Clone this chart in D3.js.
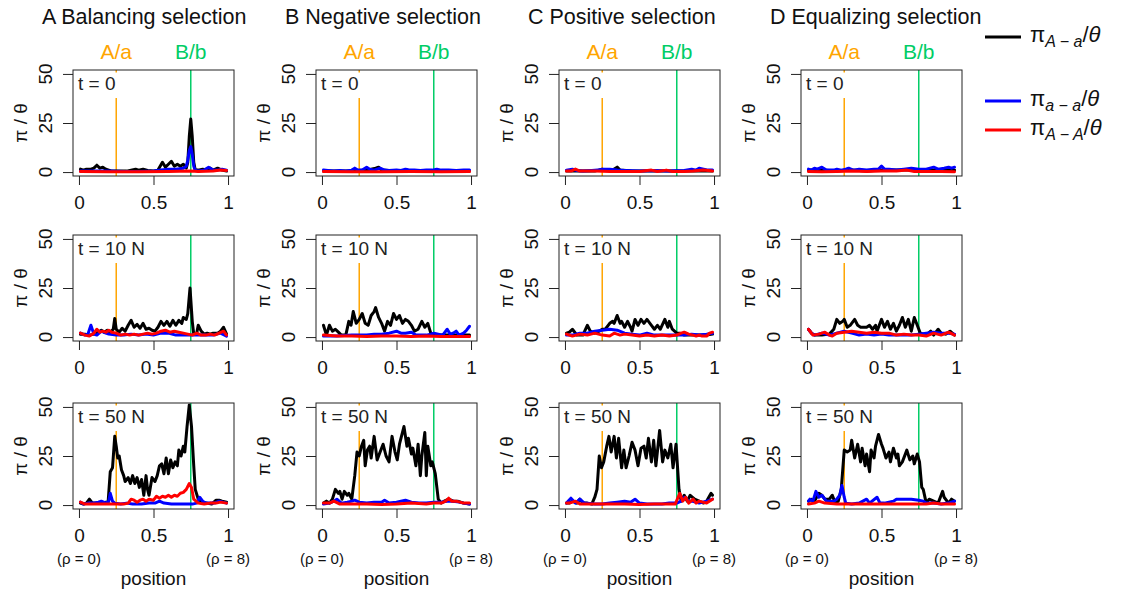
<!DOCTYPE html>
<html><head><meta charset="utf-8">
<script src="https://cdn.jsdelivr.net/npm/d3@7"></script>
<style>body{margin:0;background:#fff} svg{display:block} text{font-family:"Liberation Sans",Arimo,Arial,sans-serif}</style>
</head><body><svg id="c" width="1128" height="591"></svg>
<script>
// ---------- labels ----------
const panelTitles = ["A Balancing selection","B Negative selection","C Positive selection","D Equalizing selection"];
const timeLabels = ["t = 0","t = 10 N","t = 50 N"];
const siteLabels = ["A/a","B/b"];
const sitePositions = [0.25, 0.75];
const xTickValues = [0, 0.5, 1];
const xTickLabels = ["0","0.5","1"];
const yTickValues = [0, 25, 50];
const rhoLabels = ["(ρ = 0)","(ρ = 8)"];
const legendSubs = ["A − a","a − a","A − A"];

// ---------- data: [position, pi/theta] ----------
// A Balancing selection
const balT0_Aa = [[0.01,1.5],[0.03,1],[0.05,1.5],[0.08,1.5],[0.1,2],[0.12,3.5],[0.14,2],[0.16,2.5],[0.18,1.5],[0.2,1],[0.22,0.5],[0.25,0.5],[0.28,0.5],[0.32,0.5],[0.35,1],[0.38,1.5],[0.4,1],[0.43,1.5],[0.46,0.8],[0.5,0.5],[0.53,1],[0.56,5],[0.58,2.5],[0.6,4],[0.62,5.5],[0.64,3],[0.66,4],[0.68,3],[0.7,4],[0.72,2],[0.73,5],[0.74,18],[0.75,27],[0.76,18],[0.77,5],[0.78,1],[0.8,1],[0.83,1.5],[0.86,1],[0.88,2],[0.9,1],[0.93,2],[0.96,1],[0.99,0.5]];
const balT0_aa = [[0.01,0.5],[0.1,0.5],[0.2,0.5],[0.3,0.3],[0.4,0.3],[0.5,0.5],[0.55,1],[0.6,1.5],[0.65,1.5],[0.7,2],[0.72,3],[0.73,6],[0.74,11],[0.75,13],[0.76,9],[0.77,3],[0.78,1],[0.8,0.5],[0.84,1],[0.87,2.5],[0.9,1],[0.93,1],[0.96,1.5],[0.99,1]];
const balT0_AA = [[0.01,0.3],[0.2,0.2],[0.4,0.2],[0.6,0.3],[0.75,0.5],[0.8,0.3],[0.9,0.5],[0.95,1],[0.99,0.8]];
const balT10_Aa = [[0.01,1.5],[0.04,1.5],[0.07,1],[0.1,1.5],[0.13,2.5],[0.15,3.5],[0.17,2.5],[0.19,3.5],[0.21,2.5],[0.23,4],[0.24,9.5],[0.25,4],[0.27,2.5],[0.29,4.5],[0.31,3],[0.33,6],[0.35,8.5],[0.37,5],[0.39,6.5],[0.41,4.5],[0.43,7],[0.45,4],[0.47,4.5],[0.49,3.5],[0.51,3],[0.53,5],[0.55,8],[0.57,6],[0.59,8],[0.61,5.5],[0.63,8.5],[0.65,6],[0.67,8.5],[0.69,7],[0.7,10],[0.72,9],[0.73,12],[0.745,25],[0.76,8],[0.77,1.5],[0.79,2],[0.8,6],[0.82,3],[0.84,1.5],[0.86,2],[0.88,1.5],[0.9,2],[0.93,2],[0.95,3],[0.97,5],[0.99,1.5]];
const balT10_aa = [[0.01,2],[0.04,1],[0.06,1.5],[0.08,6],[0.1,1.5],[0.12,1],[0.15,3],[0.18,2],[0.2,1.5],[0.25,1],[0.3,1],[0.35,1.5],[0.4,1],[0.45,1.5],[0.5,1],[0.55,2],[0.6,2],[0.65,1],[0.7,1],[0.75,1],[0.8,1],[0.85,1],[0.9,1],[0.95,2],[0.99,0.5]];
const balT10_AA = [[0.01,2],[0.04,1],[0.07,0.5],[0.1,2],[0.12,4],[0.14,2.5],[0.16,3],[0.18,2.5],[0.2,3.5],[0.22,2.5],[0.25,2],[0.28,1],[0.31,1.5],[0.34,1],[0.37,1.5],[0.4,1],[0.43,1.5],[0.46,2],[0.49,1.5],[0.52,2],[0.55,3],[0.58,3.5],[0.61,2.5],[0.64,3],[0.67,2.5],[0.7,2],[0.73,1.5],[0.76,1],[0.79,2],[0.82,1],[0.85,1],[0.88,1.5],[0.91,1],[0.94,2],[0.97,3],[0.99,1]];
const balT50_Aa = [[0.01,1],[0.03,0.5],[0.05,1],[0.07,3],[0.09,1],[0.12,1],[0.15,1],[0.18,1.5],[0.195,1],[0.21,17],[0.225,19],[0.24,35],[0.25,30],[0.26,24],[0.27,25],[0.285,18],[0.3,15],[0.31,12],[0.33,14],[0.345,11],[0.36,15],[0.375,11],[0.39,14],[0.405,9],[0.42,13],[0.435,5],[0.45,15],[0.46,8],[0.47,5],[0.49,14],[0.51,12],[0.525,15],[0.54,20],[0.555,21],[0.57,16],[0.585,24],[0.6,16],[0.615,23],[0.63,19],[0.645,22],[0.66,20],[0.67,28],[0.685,25],[0.7,30],[0.71,27],[0.725,40],[0.74,51],[0.755,40],[0.77,20],[0.78,8],[0.8,3],[0.83,1.5],[0.86,1],[0.89,0.5],[0.92,2.5],[0.94,2.5],[0.96,2],[0.99,1.5]];
const balT50_aa = [[0.01,1.5],[0.03,0.5],[0.06,1],[0.1,1],[0.13,1.5],[0.15,2],[0.18,1],[0.2,2],[0.21,6],[0.225,2],[0.24,1],[0.28,0.5],[0.32,1],[0.36,0.5],[0.42,0.5],[0.47,1],[0.51,1],[0.54,2],[0.57,1],[0.62,0.5],[0.7,0.5],[0.76,0.5],[0.79,1],[0.81,4],[0.83,2],[0.85,1],[0.88,1],[0.91,1],[0.94,2],[0.99,1]];
const balT50_AA = [[0.01,1.5],[0.04,0.5],[0.1,0.5],[0.2,0.5],[0.3,0.5],[0.33,1],[0.35,3],[0.37,2.5],[0.39,1.5],[0.41,2.5],[0.43,3],[0.45,2],[0.47,3],[0.5,2.5],[0.52,4.5],[0.54,3.5],[0.56,4.5],[0.58,4],[0.6,5],[0.62,4],[0.64,5],[0.66,4.5],[0.68,6],[0.7,6.5],[0.72,8],[0.74,11],[0.755,9],[0.77,3],[0.8,1],[0.84,0.5],[0.88,1],[0.92,1],[0.95,1.5],[0.99,1]];
// B Negative selection
const negT0_Aa = [[0.01,0.5],[0.1,0.5],[0.2,0.5],[0.3,1],[0.36,2],[0.38,2.5],[0.4,1],[0.5,0.5],[0.6,0.8],[0.7,0.5],[0.8,0.5],[0.9,0.5],[0.99,0.5]];
const negT0_aa = [[0.01,1],[0.04,0.8],[0.08,0.5],[0.12,0.8],[0.16,0.5],[0.2,1],[0.22,2],[0.24,1],[0.27,1],[0.3,2.5],[0.32,1.5],[0.35,1],[0.37,1.5],[0.39,2],[0.42,1],[0.45,0.8],[0.5,1],[0.53,0.8],[0.56,1.5],[0.58,1.2],[0.62,1],[0.66,0.8],[0.7,1],[0.74,1],[0.77,1.5],[0.8,1],[0.85,1],[0.9,0.8],[0.95,1],[0.99,1]];
const negT0_AA = [[0.01,0.3],[0.2,0.2],[0.4,0.2],[0.6,0.3],[0.8,0.2],[0.99,0.3]];
const negT10_Aa = [[0.01,6],[0.03,1],[0.05,6],[0.07,3],[0.09,4],[0.11,2.5],[0.13,1],[0.16,1],[0.18,8],[0.195,6],[0.21,13],[0.23,7],[0.25,9],[0.27,12],[0.29,7],[0.31,6],[0.33,11],[0.35,13],[0.36,15],[0.38,10],[0.4,7],[0.42,3],[0.44,8],[0.46,6],[0.48,12],[0.5,9],[0.52,11],[0.54,7],[0.56,9],[0.58,8],[0.6,6],[0.62,3],[0.645,4],[0.67,8],[0.69,5],[0.71,7],[0.73,2],[0.76,1],[0.8,1],[0.85,1],[0.9,1],[0.95,1],[0.99,1]];
const negT10_aa = [[0.01,0.5],[0.1,0.5],[0.2,1],[0.3,1],[0.35,1.5],[0.4,1.5],[0.45,2],[0.5,3],[0.53,2],[0.56,2],[0.6,2.5],[0.63,1],[0.67,1],[0.7,1],[0.73,1.5],[0.75,2],[0.78,1.5],[0.81,1],[0.84,4],[0.86,1.5],[0.88,2],[0.9,3],[0.92,1],[0.95,2],[0.97,3.5],[0.99,5.5]];
const negT10_AA = [[0.01,1],[0.1,0.5],[0.2,0.5],[0.3,0.3],[0.4,0.5],[0.5,0.5],[0.6,0.3],[0.7,0.5],[0.8,0.3],[0.9,0.3],[0.99,0.3]];
const negT50_Aa = [[0.01,1],[0.03,2],[0.05,1],[0.07,3],[0.09,8],[0.11,6],[0.12,7],[0.135,3],[0.15,7],[0.17,5],[0.18,6],[0.2,3],[0.22,15],[0.235,27],[0.25,25],[0.265,30],[0.28,33],[0.29,20],[0.305,28],[0.32,30],[0.33,24],[0.35,35],[0.37,23],[0.39,27],[0.41,31],[0.43,25],[0.45,22],[0.47,35],[0.49,27],[0.505,23],[0.52,31],[0.55,40],[0.57,30],[0.58,34],[0.6,26],[0.61,29],[0.63,20],[0.645,31],[0.66,15],[0.67,25],[0.69,37],[0.7,15],[0.71,30],[0.73,20],[0.74,22],[0.76,16],[0.78,3],[0.8,1],[0.82,2],[0.85,3],[0.88,2],[0.91,2],[0.95,1],[0.99,0.5]];
const negT50_aa = [[0.01,0.5],[0.05,1],[0.08,2],[0.1,3],[0.13,1],[0.17,1.5],[0.2,2],[0.22,2.5],[0.25,1.5],[0.3,1],[0.35,1.5],[0.4,1.5],[0.42,2.5],[0.45,1],[0.5,1.5],[0.56,2.5],[0.6,1.5],[0.65,1],[0.7,1],[0.75,1.5],[0.8,1.5],[0.84,2],[0.88,2],[0.92,1.5],[0.95,1],[0.99,0.5]];
const negT50_AA = [[0.01,1],[0.05,1],[0.08,2],[0.12,0.5],[0.2,0.5],[0.3,0.5],[0.4,0.3],[0.5,0.5],[0.6,1],[0.7,0.5],[0.75,1],[0.8,1],[0.83,2],[0.85,3.5],[0.87,2],[0.9,2],[0.95,1],[0.99,1]];
// C Positive selection
const posT0_Aa = [[0.01,0.5],[0.1,0.5],[0.2,0.5],[0.25,1.5],[0.28,1],[0.32,1],[0.35,2.5],[0.37,1],[0.45,0.5],[0.6,0.5],[0.8,0.5],[0.99,0.5]];
const posT0_aa = [[0.01,1],[0.05,1.5],[0.08,0.8],[0.12,0.5],[0.18,0.8],[0.22,1],[0.25,1.5],[0.3,1.5],[0.35,1],[0.4,0.8],[0.5,0.5],[0.6,0.8],[0.7,0.5],[0.8,0.8],[0.85,1.5],[0.88,1],[0.9,2],[0.93,1.5],[0.96,1],[0.99,1]];
const posT0_AA = [[0.01,0.5],[0.04,0.5],[0.07,1.5],[0.1,0.5],[0.2,0.5],[0.3,0.3],[0.4,0.3],[0.5,0.3],[0.58,1],[0.62,0.3],[0.68,1],[0.72,0.3],[0.8,0.3],[0.86,0.5],[0.93,1],[0.99,0.5]];
const posT10_Aa = [[0.01,2],[0.03,2.5],[0.05,4],[0.08,1],[0.12,1],[0.15,6],[0.17,3],[0.2,2],[0.23,3],[0.25,4],[0.27,4],[0.29,6],[0.3,7],[0.32,8],[0.33,7],[0.35,11],[0.37,7],[0.38,8],[0.4,5],[0.42,8],[0.44,5],[0.45,3],[0.47,9],[0.49,6],[0.51,9],[0.53,7],[0.55,9],[0.57,7],[0.58,6],[0.6,4],[0.62,6],[0.64,4],[0.67,9],[0.69,5],[0.7,8],[0.72,4],[0.75,2],[0.77,2],[0.8,1],[0.85,1],[0.9,1],[0.95,1],[0.99,1.5]];
const posT10_aa = [[0.01,1],[0.05,1],[0.1,2],[0.15,2],[0.2,3],[0.25,3.5],[0.3,4],[0.35,3.5],[0.4,2],[0.45,1.5],[0.5,1],[0.55,2],[0.6,1],[0.65,1],[0.7,1],[0.75,1],[0.8,1],[0.85,1.5],[0.9,1],[0.95,1.5],[0.99,2]];
const posT10_AA = [[0.01,1.5],[0.05,0.5],[0.1,1.5],[0.15,1],[0.2,2],[0.25,1],[0.3,0.5],[0.33,2],[0.37,1],[0.4,1.5],[0.45,1],[0.5,0.5],[0.55,1],[0.6,0.5],[0.65,1],[0.7,0.5],[0.75,1],[0.78,2],[0.8,2.5],[0.83,1.5],[0.86,1],[0.88,0.5],[0.9,1],[0.92,0.5],[0.95,0.5],[0.97,2],[0.99,2.5]];
const posT50_Aa = [[0.01,1],[0.03,1],[0.05,2],[0.08,1],[0.1,3],[0.12,1],[0.15,1],[0.18,0.5],[0.2,4],[0.215,8],[0.23,25],[0.245,19],[0.26,22],[0.28,30],[0.295,35],[0.31,27],[0.33,35],[0.345,24],[0.36,34],[0.38,19],[0.395,28],[0.41,19],[0.43,25],[0.45,32],[0.47,28],[0.49,20],[0.51,29],[0.53,30],[0.545,24],[0.56,34],[0.58,22],[0.595,33],[0.61,20],[0.635,38],[0.655,22],[0.67,28],[0.69,24],[0.71,31],[0.725,19],[0.745,31],[0.765,8],[0.78,2],[0.8,5],[0.82,2],[0.84,5],[0.87,3],[0.9,2],[0.93,1],[0.95,2],[0.98,6],[0.99,5]];
const posT50_aa = [[0.01,1],[0.04,3.5],[0.07,1],[0.1,3],[0.13,1],[0.2,0.5],[0.25,0.5],[0.3,1],[0.35,1.5],[0.4,2],[0.44,1.5],[0.47,3],[0.5,1],[0.55,0.5],[0.6,0.5],[0.65,0.5],[0.7,1],[0.75,1],[0.78,2],[0.8,4],[0.83,2],[0.85,2],[0.9,1],[0.95,2],[0.99,3]];
const posT50_AA = [[0.01,1],[0.03,1],[0.07,2],[0.1,0.5],[0.2,0.5],[0.3,0.5],[0.4,0.5],[0.5,0.3],[0.6,0.5],[0.7,0.5],[0.74,0.5],[0.77,6],[0.79,2],[0.81,4],[0.83,1],[0.86,3],[0.88,1],[0.9,2],[0.95,1],[0.99,3]];
// D Equalizing selection
const eqT0_Aa = [[0.01,1],[0.1,1],[0.2,0.5],[0.3,1],[0.4,0.5],[0.5,1],[0.6,1],[0.7,1],[0.8,1],[0.9,1],[0.99,1]];
const eqT0_aa = [[0.01,1.5],[0.03,1],[0.05,2],[0.07,1.5],[0.1,2.5],[0.13,1],[0.15,1],[0.18,1],[0.2,1.5],[0.23,1],[0.26,1.5],[0.28,2],[0.31,1],[0.35,1.5],[0.4,1],[0.45,1.5],[0.48,1.5],[0.5,3],[0.52,1.5],[0.55,1.5],[0.6,1],[0.65,1.5],[0.7,2],[0.75,1.5],[0.8,1.5],[0.85,2.5],[0.88,1.5],[0.92,2],[0.95,2.5],[0.97,2],[0.99,2.5]];
const eqT0_AA = [[0.01,0.3],[0.1,0.2],[0.2,0.3],[0.3,0.5],[0.4,0.3],[0.5,0.5],[0.6,0.5],[0.67,1],[0.72,0.3],[0.8,0.3],[0.9,0.3],[0.99,0.2]];
const eqT10_Aa = [[0.01,4],[0.03,2],[0.05,1],[0.1,1],[0.15,1.5],[0.18,4],[0.2,9],[0.22,7],[0.24,8],[0.25,9],[0.27,5],[0.29,6],[0.32,9],[0.34,6],[0.36,5],[0.38,5],[0.4,5],[0.42,6],[0.44,4],[0.46,6],[0.47,3],[0.5,9],[0.52,5],[0.54,8],[0.56,4],[0.58,7],[0.6,3],[0.62,6],[0.64,10],[0.66,5],[0.68,9],[0.7,3],[0.72,10],[0.74,6],[0.76,2],[0.8,1],[0.83,3],[0.85,1],[0.88,4],[0.9,2],[0.93,1.5],[0.96,3],[0.99,1]];
const eqT10_aa = [[0.01,4],[0.03,2],[0.05,1],[0.1,2],[0.15,1],[0.2,2],[0.25,3],[0.3,2],[0.35,1],[0.4,1.5],[0.45,1],[0.5,1.5],[0.55,1],[0.6,1],[0.65,1],[0.7,1],[0.75,1.5],[0.8,2],[0.85,2.5],[0.9,2],[0.95,2],[0.99,1.5]];
const eqT10_AA = [[0.01,4],[0.04,1],[0.08,1.5],[0.12,2.5],[0.15,1],[0.17,0.5],[0.2,2],[0.25,2.5],[0.3,3],[0.35,2.5],[0.4,2],[0.45,2.5],[0.5,2],[0.55,2],[0.6,1],[0.65,1.5],[0.7,1],[0.75,1],[0.8,0.5],[0.85,2],[0.9,1],[0.95,2.5],[0.99,1]];
const eqT50_Aa = [[0.01,2],[0.03,3],[0.05,2],[0.08,6],[0.1,5],[0.12,3],[0.15,3],[0.17,5],[0.19,1],[0.21,2],[0.23,8],[0.25,28],[0.27,27],[0.29,28],[0.3,33],[0.32,24],[0.34,31],[0.36,22],[0.37,29],[0.39,20],[0.4,26],[0.42,17],[0.43,28],[0.45,24],[0.46,30],[0.48,36],[0.5,31],[0.51,29],[0.53,24],[0.55,27],[0.56,22],[0.58,29],[0.6,24],[0.61,26],[0.62,20],[0.64,22],[0.67,28],[0.69,23],[0.71,25],[0.72,21],[0.74,26],[0.755,22],[0.77,9],[0.78,8],[0.8,1],[0.82,3],[0.85,2],[0.88,1],[0.91,7],[0.92,4],[0.95,1],[0.97,3],[0.99,2]];
const eqT50_aa = [[0.01,2],[0.02,3],[0.04,2],[0.06,7],[0.08,4],[0.1,5],[0.13,2],[0.18,2],[0.2,3],[0.22,5],[0.235,10],[0.25,4],[0.26,1],[0.3,0.5],[0.35,1],[0.4,3],[0.42,1],[0.47,4],[0.49,1],[0.52,1],[0.55,1.5],[0.58,2],[0.6,3],[0.65,3],[0.7,3],[0.75,2.5],[0.78,2],[0.8,1],[0.85,1],[0.9,0.5],[0.95,1],[0.99,2]];
const eqT50_AA = [[0.01,0.5],[0.05,1],[0.08,2],[0.12,1],[0.2,0.5],[0.3,0.5],[0.4,0.5],[0.5,0.5],[0.6,0.5],[0.7,0.5],[0.8,0.5],[0.85,1],[0.9,0.5],[0.99,0.5]];

// panels[column][row] = [A-a, a-a, A-A]
const panels = [
  [[balT0_Aa,balT0_aa,balT0_AA],[balT10_Aa,balT10_aa,balT10_AA],[balT50_Aa,balT50_aa,balT50_AA]],
  [[negT0_Aa,negT0_aa,negT0_AA],[negT10_Aa,negT10_aa,negT10_AA],[negT50_Aa,negT50_aa,negT50_AA]],
  [[posT0_Aa,posT0_aa,posT0_AA],[posT10_Aa,posT10_aa,posT10_AA],[posT50_Aa,posT50_aa,posT50_AA]],
  [[eqT0_Aa,eqT0_aa,eqT0_AA],[eqT10_Aa,eqT10_aa,eqT10_AA],[eqT50_Aa,eqT50_aa,eqT50_AA]]
];

// ---------- layout & style ----------
const seriesColors = ["#000000","#0000FF","#FF0000"];
const siteColors = ["#FFA500","#00CD66"];
const colLeft = [73, 316, 559, 801];
const rowTop = [70, 235, 403];
const W = 161, H = 106;
const FONT = 19;

const svg = d3.select("#c");
const x = d3.scaleLinear().domain([-0.04, 1.04]).range([0, W]);
const y = d3.scaleLinear().domain([-2, 52]).range([H, 0]);
const line = d3.line().x(d => x(d[0])).y(d => y(d[1])).curve(d3.curveLinear);

svg.append("defs").append("clipPath").attr("id","clip")
  .append("rect").attr("x",0).attr("y",0).attr("width",W).attr("height",H);

panels.forEach((col, ci) => {
  svg.append("text").attr("x", colLeft[ci] - 31).attr("y", 23.5)
    .attr("font-size", 21.5).attr("fill", "#111").text(panelTitles[ci]);
  col.forEach((rowSeries, ri) => {
    const g = svg.append("g").attr("transform", `translate(${colLeft[ci]},${rowTop[ri]})`);
    sitePositions.forEach((p, si) => {
      g.append("line").attr("x1", x(p)).attr("x2", x(p)).attr("y1", 0).attr("y2", H)
        .attr("stroke", siteColors[si]).attr("stroke-width", 1.5);
      if (ri === 0) {
        g.append("text").attr("x", x(p)).attr("y", -11).attr("text-anchor","middle")
          .attr("font-size", 21).attr("fill", siteColors[si]).text(siteLabels[si]);
      }
    });
    const bg = g.append("rect").attr("fill","#fff");
    const t = g.append("text").attr("x", 5).attr("y", 20).attr("font-size", FONT)
      .attr("fill","#222").text(timeLabels[ri]);
    const tw = t.node().getComputedTextLength();
    bg.attr("x", 1).attr("y", 2.5).attr("width", tw + 10).attr("height", 25.5);
    const lg = g.append("g").attr("clip-path","url(#clip)");
    rowSeries.forEach((s, k) => {
      lg.append("path").datum(s).attr("d", line).attr("fill","none")
        .attr("stroke", seriesColors[k]).attr("stroke-width", 3)
        .attr("stroke-linejoin","round").attr("stroke-linecap","round");
    });
    g.append("rect").attr("x",0).attr("y",0).attr("width",W).attr("height",H)
      .attr("fill","none").attr("stroke","#222").attr("stroke-width",1);
    const xa = g.append("g").attr("transform", `translate(0,${H})`)
      .call(d3.axisBottom(x).tickValues(xTickValues).tickFormat((d,i)=>xTickLabels[i])
        .tickSize(9).tickSizeOuter(0).tickPadding(11));
    xa.select(".domain").remove();
    xa.selectAll("text").attr("font-size", FONT).attr("font-family", null).attr("fill","#111");
    xa.selectAll("line").attr("stroke","#222");
    const ya = g.append("g").call(d3.axisLeft(y).tickValues(yTickValues).tickSize(10).tickSizeOuter(0).tickFormat(""));
    ya.select(".domain").remove();
    ya.selectAll("line").attr("stroke","#222");
    yTickValues.forEach(v => {
      g.append("text").attr("transform", `translate(-21,${y(v)}) rotate(-90)`)
        .attr("text-anchor","middle").attr("font-size", FONT).attr("fill","#111").text(String(v));
    });
    g.append("text").attr("transform", `translate(-46,${H/2}) rotate(-90)`)
      .attr("text-anchor","middle").attr("font-size", FONT).attr("fill","#111").text("π / θ");
    if (ri === 2) {
      g.append("text").attr("x", x(0)).attr("y", H + 55).attr("text-anchor","middle")
        .attr("font-size", 15).attr("fill","#111").text(rhoLabels[0]);
      g.append("text").attr("x", x(1)).attr("y", H + 55).attr("text-anchor","middle")
        .attr("font-size", 15).attr("fill","#111").text(rhoLabels[1]);
      g.append("text").attr("x", W/2).attr("y", H + 76).attr("text-anchor","middle")
        .attr("font-size", FONT).attr("fill","#111").text("position");
    }
  });
});

// ---------- legend ----------
const legendY = [37, 101, 130];
legendSubs.forEach((sub, k) => {
  svg.append("line").attr("x1", 985).attr("x2", 1021).attr("y1", legendY[k]).attr("y2", legendY[k])
    .attr("stroke", seriesColors[k]).attr("stroke-width", 3);
  const tx = svg.append("text").attr("x", 1030).attr("y", legendY[k] + 5).attr("font-size", 22).attr("fill","#111");
  tx.append("tspan").text("π");
  tx.append("tspan").attr("font-size", 16).attr("font-style","italic").attr("dy", 5).text(sub);
  tx.append("tspan").attr("dy", -5).text("/");
  tx.append("tspan").attr("font-style","italic").text("θ");
});
</script></body></html>
